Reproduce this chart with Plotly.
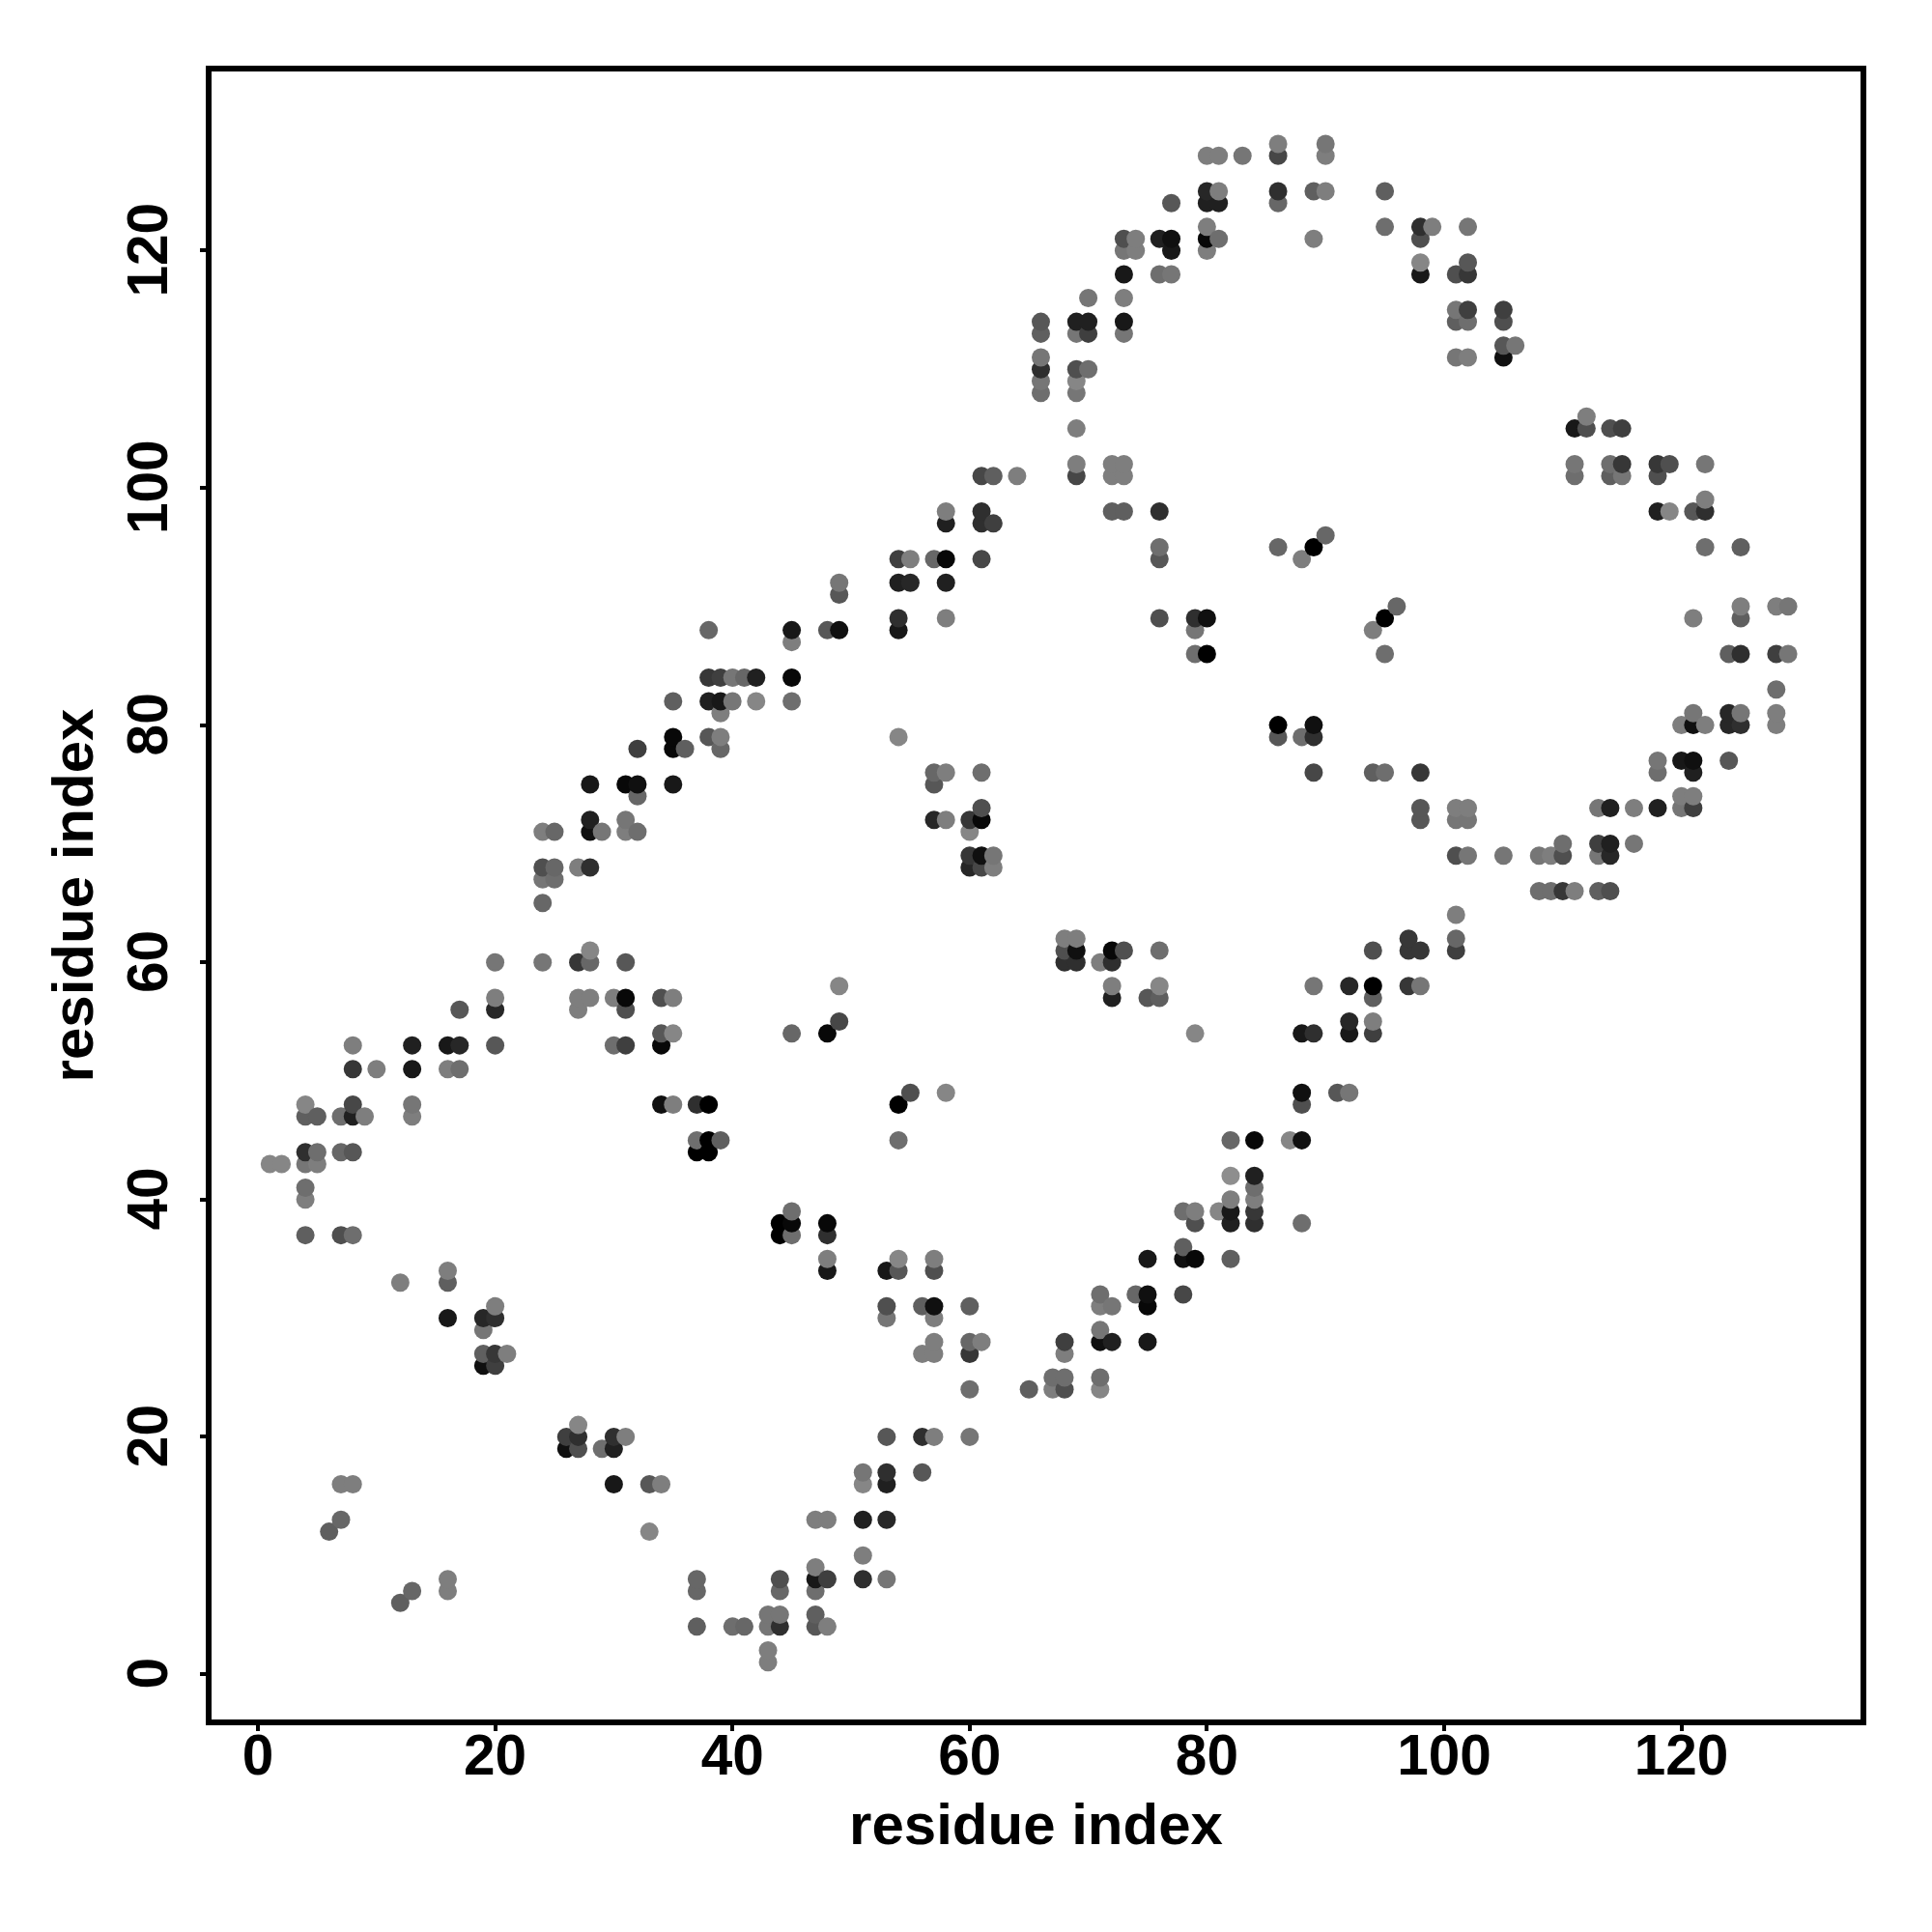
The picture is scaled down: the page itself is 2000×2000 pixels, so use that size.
import plotly.graph_objects as go

row_y = [129,128,125,124,122,121,120,119,118,116,115,114,113,112,111,110,109,108,106,105,102,101,99,98,97,96,95,94,92,91,90,89,88,87,86,84,83,82,81,80,79,78,77,76,75,74,73,72,71,70,69,68,67,66,65,64,62,61,60,58,57,56,55,54,53,51,49,48,47,45,44,43,42,41,40,39,38,37,36,35,34,33,32,31,30,29,28,27,26,25,24,21,20,19,17,16,13,12,10,9,8,7,6,5,4,2,1]

row_x = [
[86,90],[80,81,83,86,90],[80,81,86,89,90,95],[77,80,81,86],[80,95,98,99,102],
[73,74,76,77,80,81,89,98],[73,74,77,80],[98,102],[73,76,77,98,101,102],[70,73],
[101,102,105],[66,69,70,73,101,102,105],[66,69,70,73],[105,106],[66,101,102,105],
[66,69,70],[66,69],[66,69],[112],[69,111,112,114,115],
[69,72,73,111,114,115,118,119,122],[61,62,64,69,72,73,111,114,115,118],[122],
[58,61,72,73,76,118,119,121,122],[58,61,62],[90],[76,86,89,122,125],
[54,55,57,58,61,76,88],[49,54,55,58],[49],[96,125,128,129],
[54,58,76,79,80,95,121,125],[38,45,48,49,54,79,94],[45],[79,80,95,124,125,128,129],
[38,39,40,41,42,45],[128],[35,38,39,40,42,45],[39,121,124,125,128],
[86,89,120,121,122,124,125,128],[35,38,39,54,86,88,89],[32,35,36,39],[118,120,121,124],
[57,58,61,89,94,95,98,118,121],[28,31,32,35,57],[32,120,121],
[61,98,101,102,113,114,116,118,120,121],[28,31,57,58,60,61,98,101,102],
[24,25,28,29,31,32,60],[110,113,114,116],[60,61,62,101,102,105,108,109,110,113,114],
[24,25,27,28,60,61,62],[24,25],[108,109,110,111,113,114],[24],[101],[68,69,97,101],
[28,68,69,72,73,76,94,97,98,101],[20,24,27,28,31,68,69,71,72],
[49,72,76,89,92,94,97,98],[20,27,28,30,31,34,35,72,75,76,94],[17,20,27,31],[49,92,94],
[34,35,45,48,79,88,89,92,94],[8,13,16,17,20,30,31,34],[8,10,13,16,17],[55,58,88,91,92],
[4,8,13,34,35,37,38,54,88],[4,5,7,8,9,13],[37,38,39,54,82,84,87,88],[4,5,7,8,37,38],
[1,2,4,5],[82,84],[4,84],[4,82,84],[45,78,79,81,82,84],[44,45,48,79,82,84,88],
[4,7,8,44,45,48],[78],[48,54,57,75,78,79,82],[16,48,53,54,57],[12,16],[71,74,75,78],
[20,53,56,57,60,71,72,75],[16,19,20,53,57],[19,71],[57,60,61,68,71,72,75],
[19,20,21,56,57,60,68],[19,20],[67,68,71],[60,65,67,68,71],[27],
[26,27,30,31,53,56,57,60],[26,27,29,30],[51,53,56],[7,8,30,33,34,51,53],
[7,47,48,51,53],[6,33],[51],[47],[16,37,44,47,48,51,53],[13,16,37,44,47],[12],
[43,44,47],[37,40,41,43,44,47,48],[43],[43],
]

row_score = [
[8,7.5],[8,8,7.5,4.5,8],[2.5,8,3,6,8,6],[5.5,2,2,6.5],[8,7,3,8,7.5],
[5,8,2,1,0.5,7,8,5],[7.5,8,1.5,8],[8.5,5.5],[1.5,7,7.5,1.5,5,3.5],[7.5,8],
[7.5,4,4],[5.5,2,2,1.5,6,7,5],[6,7.5,4,7.5],[5.5,7.5],[7.5,7.5,8,1],
[3,5,7],[7.5,8.5],[7,7.5],[8],[8,1.5,5,5,4],
[8,8,8,7.5,7,3.5,3.5,5,7.5],[4.5,6,8,4.5,8,8,7,6,7.5,5],[8],
[8,3,6,6,3,2,8.5,5.5,3],[2,3,4],[6.5],[7,6.5,0,7,6],
[4,8,6.5,0.5,4.5,5.5,8],[7.5,2,2.5,2],[5.5],[6.5,8,8,7.5],
[3,8,5,3,1,0,8,6],[6.5,1.5,5.5,1,1.5,7.5,8],[8],[7,0,7,6,3,4,7.5],
[3.5,4,7.5,6.5,2,0.5],[7],[6,2,1.5,7.5,8.5,7],[8,7.5,2.5,7.5,8],
[0,1,8,1,8,2.5,3,8],[0.5,5.5,8,8.5,5.5,7,3],[4,0.5,6,6.5],[7.5,1.5,1,5.5],
[6.5,8,7,4.5,6,7,3.5,7,2],[1.5,0.5,1,1.5,5.5],[6.5,8,8],
[5,5.5,8,8,7.5,2,8,2,7.5,4],[2,7.5,2.5,8,3.5,0.5,5.5,7.5,7.5],
[8,6.5,1,7.5,8,7,8.5],[7,4,2,7.5],[3.5,1,7.5,5,7.5,7.5,7.5,8,5,7.5,2.5],
[5,6.5,8,3,2.5,4.5,8],[7.5,7],[7,7,3.5,8,6,5],[6.5],[8],[8,8,3.5,6.5],
[8.5,5,1,0.5,5,7,5,3.5,3.5,4],[7.5,7.5,3.5,6.5,5.5,3,3,8,3],
[8.5,8,8.5,7.5,2.5,0,3.5,7.5],[8,8,8,8,0.5,5,8,2,5.5,6,6],[5.5,2.5,8,5],[4.5,2.5,8],
[5.5,8.5,6.5,0.5,8.5,1.5,3,1.5,4],[8,2,1.5,2.5,5.5,7,4,0.5],[3.5,8,1.5,8,7],[5,8.5,1,5.5,7.5],
[8.5,4.5,7.5,1,8,3,0,0,5],[6,6,7,2,8,8],[7,0,6,7,6.5,0.5,8.5,1],[3,7,6.5,5.5,0,0],
[8.5,8.5,7.5,8],[9,2],[7,7],[8,8,8],[7,7,8,8.5,1.5,3.5],[0,0.5,0.5,5,2,3,7],
[6,5,7,0,7,3],[6],[8,8.5,8,1.5,1,0.5,6],[8,1.5,1.5,5.5,5],[8,6],[7,6.5,1,4.5],
[8,5,6,1,6,8,7.5,0.5],[1.5,2.5,3,7.5,8],[7.5,7.5],[8,6.5,8,4,1,2,1.5],
[6,3.5,8,8,8,3.5,8],[1,4],[7,7,7],[7,6,8,5,8.5],[8.5],
[4,3,3,8,5.5,3,8,7.5],[1,5,7,2],[7.5,3,5.5],[8,8,1.5,5.5,8,8.5,2],
[6.5,8,8,2,2.5],[6,8.5],[8],[8],[8,6.5,5,1.5,4,3,7.5],[6.5,8,6.5,6.5,7],[6],
[7.5,7.5,6],[6,7,6.5,7.5,3,5.5,8],[8],[8],
]

tick_values = [0, 20, 40, 60, 80, 100, 120]
axis_label = "residue index"

points = sorted(
    (x, y, s)
    for y, xs, ss in zip(row_y, row_x, row_score)
    for x, s in zip(xs, ss)
)

fig = go.Figure(go.Scatter(
    x=[p[0] for p in points],
    y=[p[1] for p in points],
    mode="markers",
    marker=dict(
        size=19,
        color=[p[2] for p in points],
        cmin=0, cmax=9,
        colorscale=[[0, "#000000"], [1, "#8e8e8e"]],
        showscale=False,
        line=dict(width=0),
    ),
    hoverinfo="skip",
))

axis_style = dict(
    tickmode="array",
    tickvals=tick_values,
    ticktext=[str(v) for v in tick_values],
    ticks="outside",
    ticklen=6,
    tickwidth=4,
    tickcolor="black",
    showline=True,
    mirror=True,
    linecolor="black",
    linewidth=6,
    showgrid=False,
    zeroline=False,
    tickfont=dict(family="Liberation Sans", size=58.5, color="black", weight="bold"),
    title_font=dict(family="Liberation Sans", size=60, color="black", weight="bold"),
)

fig.update_layout(
    width=2000, height=2000, autosize=False,
    margin=dict(l=219, r=74, t=74, b=220),
    paper_bgcolor="white", plot_bgcolor="white",
    showlegend=False,
    xaxis=dict(range=[-3.91, 135.1], ticklabelstandoff=-25,
               title=dict(text=axis_label, standoff=21), **axis_style),
    yaxis=dict(range=[-3.83, 135.1], tickangle=-90, ticklabelstandoff=11, ticklabelshift=8,
               title=dict(text=axis_label, standoff=6), **axis_style),
)

fig.write_html("out.html", config=dict(displayModeBar=False),
               post_script="document.body.style.margin='0';")
